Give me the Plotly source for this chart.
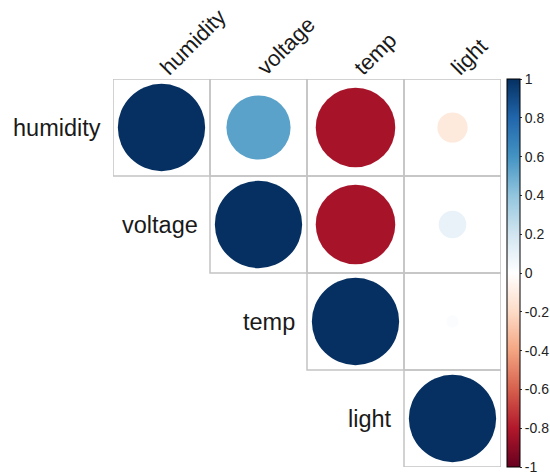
import numpy as np
import plotly.graph_objects as go

variables = ["humidity", "voltage", "temp", "light"]
# upper-triangle correlation values (row, col)
corr = [
    [1.00, 0.54, -0.83, -0.12],
    [0.54, 1.00, -0.83, 0.10],
    [-0.83, -0.83, 1.00, 0.02],
    [-0.12, 0.10, 0.02, 1.00],
]
cbar_vals = [1, 0.8, 0.6, 0.4, 0.2, 0, -0.2, -0.4, -0.6, -0.8, -1]
cbar_text = ["1", "0.8", "0.6", "0.4", "0.2", "0", "-0.2", "-0.4", "-0.6", "-0.8", "-1"]

rdbu = ["#67001F", "#B2182B", "#D6604D", "#F4A582", "#FDDBC7", "#FFFFFF",
        "#D1E5F0", "#92C5DE", "#4393C3", "#2166AC", "#053061"]
colorscale = [[i / (len(rdbu) - 1), c] for i, c in enumerate(rdbu)]

W, H = 550, 476
L, R, T, B = 113, 49, 79, 9
n = len(variables)
cell = (W - L - R) / n
FONT = "Liberation Sans, Arial, sans-serif"

xs, ys, vals = [], [], []
for i in range(n):
    for j in range(i, n):
        xs.append(j)
        ys.append(i)
        vals.append(corr[i][j])
vals = np.array(vals)
sizes = 0.9 * np.sqrt(np.abs(vals)) * cell

fig = go.Figure()
shapes = []
for i in range(n):
    for j in range(i, n):
        shapes.append(dict(type="rect", xref="x", yref="y",
                           x0=j - 0.5, x1=j + 0.5, y0=i - 0.5, y1=i + 0.5,
                           line=dict(color="#C4C4C4", width=1.5), layer="below"))

fig.add_trace(go.Scatter(
    x=xs, y=ys,
    mode="markers",
    marker=dict(size=sizes, color=vals, colorscale=colorscale, cmin=-1, cmax=1,
                line=dict(width=0), opacity=1,
                colorbar=dict(thickness=13, lenmode="pixels", len=W - L - R,
                              yanchor="top", y=1, x=1.016, xanchor="left", xpad=0, ypad=0,
                              outlinewidth=1, outlinecolor="#000000",
                              tickvals=cbar_vals, ticktext=cbar_text,
                              ticks="outside", ticklen=2, tickcolor="#333333",
                              tickfont=dict(family=FONT, size=14, color="#222222"))),
    hoverinfo="skip", showlegend=False,
))

annotations = []
for i, v in enumerate(variables):
    annotations.append(dict(x=i - 0.5, y=i, xref="x", yref="y", text=v,
                            showarrow=False, xanchor="right", yanchor="middle",
                            xshift=-10,
                            font=dict(family=FONT, size=23.5, color="#1a1a1a")))

fig.update_layout(
    width=W, height=H, margin=dict(l=L, r=R, t=T, b=B, autoexpand=False),
    plot_bgcolor="white", paper_bgcolor="white",
    shapes=shapes, annotations=annotations,
    xaxis=dict(range=[-0.5, n - 0.5], side="top", tickmode="array",
               tickvals=list(range(n)), ticktext=variables, tickangle=-45,
               showgrid=False, zeroline=False, showline=False, ticks="",
               automargin=False, ticklabelstandoff=-6,
               tickfont=dict(family=FONT, size=22, color="#1a1a1a")),
    yaxis=dict(range=[n - 0.5, -0.5], showticklabels=False, showgrid=False,
               zeroline=False, showline=False, ticks="", automargin=False),
)

fig.write_html("out.html", config={"displayModeBar": False},
               post_script="document.body.style.margin='0';")
